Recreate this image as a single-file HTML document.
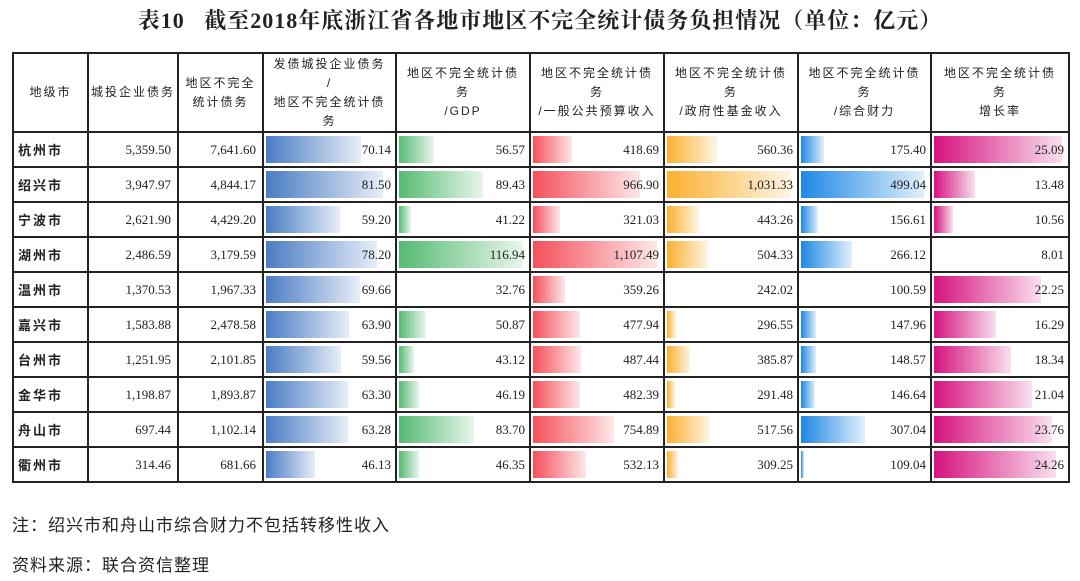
<!DOCTYPE html>
<html><head><meta charset="utf-8"><style>
body{margin:0;width:1080px;height:581px;background:#fff;position:relative;overflow:hidden;font-family:"Liberation Serif","Noto Serif CJK SC",serif;color:#222}
.title{position:absolute;top:4px;left:0;width:1080px;text-align:center;font-size:22px;font-weight:bold;letter-spacing:1px}
table{position:absolute;left:12px;top:52px;border-collapse:collapse;table-layout:fixed}
td,th{border:2px solid #222;padding:0;font-size:13px}
th{height:77px;font-weight:normal;font-family:"Liberation Sans","Noto Sans CJK SC",sans-serif;font-size:12px;letter-spacing:2px;line-height:19px;text-align:center}
td{height:33px;text-align:right;position:relative}
td.n{padding-right:6px}
td.c{text-align:left;padding-left:4px;font-weight:bold;font-family:"Liberation Sans","Noto Sans CJK SC",sans-serif;letter-spacing:2px}
.b{position:absolute;left:2px;top:3px;bottom:3px}
.v{position:relative;padding-right:4px}
.foot{position:absolute;left:12px;font-size:17px;font-family:"Liberation Sans","Noto Sans CJK SC",sans-serif;letter-spacing:1px}
</style></head><body>
<div class="title">表10&nbsp;&nbsp;&nbsp;截至2018年底浙江省各地市地区不完全统计债务负担情况（单位：亿元）</div>
<table id="t">
<colgroup><col style="width:75px"><col style="width:90px"><col style="width:85px"><col style="width:133px"><col style="width:134px"><col style="width:134px"><col style="width:134px"><col style="width:133px"><col style="width:138px"></colgroup>
<tr><th>地级市</th><th>城投企业债务</th><th>地区不完全<br>统计债务</th><th>发债城投企业债务<br>/<br>地区不完全统计债<br>务</th><th>地区不完全统计债<br>务<br>/GDP</th><th>地区不完全统计债<br>务<br>/一般公共预算收入</th><th>地区不完全统计债<br>务<br>/政府性基金收入</th><th>地区不完全统计债<br>务<br>/综合财力</th><th>地区不完全统计债<br>务<br>增长率</th></tr>
</table>
<div class="foot" style="top:511px">注：绍兴市和舟山市综合财力不包括转移性收入</div>
<div class="foot" style="top:551px">资料来源：联合资信整理</div>
<script>
var rows=[["杭州市","5,359.50","7,641.60",70.14,56.57,418.69,560.36,175.40,25.09],
["绍兴市","3,947.97","4,844.17",81.50,89.43,966.90,1031.33,499.04,13.48],
["宁波市","2,621.90","4,429.20",59.20,41.22,321.03,443.26,156.61,10.56],
["湖州市","2,486.59","3,179.59",78.20,116.94,1107.49,504.33,266.12,8.01],
["温州市","1,370.53","1,967.33",69.66,32.76,359.26,242.02,100.59,22.25],
["嘉兴市","1,583.88","2,478.58",63.90,50.87,477.94,296.55,147.96,16.29],
["台州市","1,251.95","2,101.85",59.56,43.12,487.44,385.87,148.57,18.34],
["金华市","1,198.87","1,893.87",63.30,46.19,482.39,291.48,146.64,21.04],
["舟山市","697.44","1,102.14",63.28,83.70,754.89,517.56,307.04,23.76],
["衢州市","314.46","681.66",46.13,46.35,532.13,309.25,109.04,24.26]];
var cols=["#4a7cc4","#55bb72","#f5505a","#fbb030","#1e88e5","#d6127f"];
var widths=[133,134,134,134,133,138];
var mx=[0,0,0,0,0,0],mn=[1e9,1e9,1e9,1e9,1e9,1e9];
rows.forEach(r=>{for(var i=0;i<6;i++){mx[i]=Math.max(mx[i],r[3+i]);mn[i]=Math.min(mn[i],r[3+i]);}});
mn[0]=20.7;mx[0]=84.7;mn[2]=100;
function fmt(v){return v.toLocaleString("en-US",{minimumFractionDigits:2,maximumFractionDigits:2});}
var t=document.getElementById("t"),h="";
rows.forEach(r=>{h+="<tr><td class='c'>"+r[0]+"</td><td class='n'>"+r[1]+"</td><td class='n'>"+r[2]+"</td>";
for(var i=0;i<6;i++){var v=r[3+i],f=(v-mn[i])/(mx[i]-mn[i])*0.97;
var w=Math.round(f*(widths[i]-6));
h+="<td>"+(w>0?"<div class='b' style='width:"+w+"px;background:linear-gradient(90deg,"+cols[i]+","+cols[i]+"22)'></div>":"")+"<span class='v'>"+fmt(v)+"</span></td>";}
h+="</tr>";});
t.insertAdjacentHTML("beforeend",h);
</script>
</body></html>
